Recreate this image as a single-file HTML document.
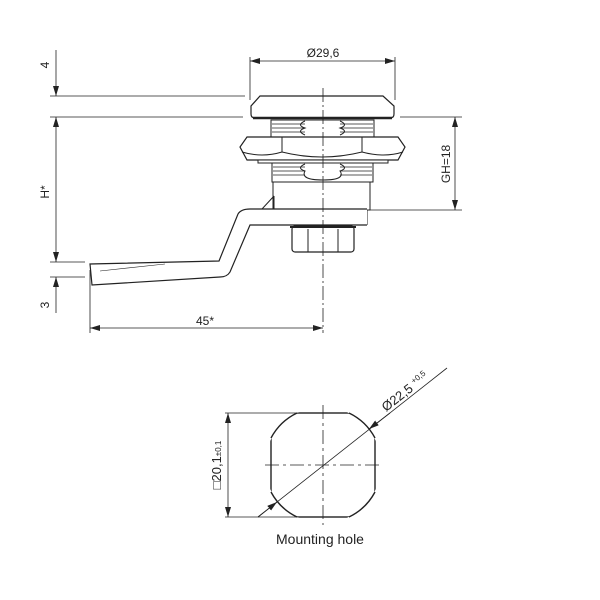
<!DOCTYPE html>
<html><head><meta charset="utf-8"><style>
html,body{margin:0;padding:0;background:#fff;}
svg{display:block;}
text{font-family:"Liberation Sans",sans-serif;fill:#222;}
</style></head><body>
<svg width="600" height="600" viewBox="0 0 600 600" xmlns="http://www.w3.org/2000/svg">
<defs>
<marker id="a" markerWidth="10" markerHeight="6" refX="10" refY="3" orient="auto-start-reverse" markerUnits="userSpaceOnUse">
<path d="M0,0 L10,3 L0,6 Z" fill="#222"/></marker>
<clipPath id="hc"><circle cx="323" cy="465" r="58"/></clipPath>
</defs>
<g stroke="#222" fill="none" stroke-width="1">
<line x1="250" y1="57" x2="250" y2="100" stroke-width="0.8"/>
<line x1="395" y1="57" x2="395" y2="100" stroke-width="0.8"/>
<line x1="250" y1="61" x2="395" y2="61" marker-start="url(#a)" marker-end="url(#a)" stroke-width="0.8"/>
<line x1="50" y1="96" x2="245" y2="96" stroke-width="0.8"/>
<line x1="50" y1="117" x2="243" y2="117" stroke-width="0.8"/>
<line x1="400" y1="117" x2="462" y2="117" stroke-width="0.8"/>
<line x1="367" y1="210" x2="462" y2="210" stroke-width="0.8"/>
<line x1="50" y1="262" x2="85" y2="262" stroke-width="0.8"/>
<line x1="50" y1="277" x2="85" y2="277" stroke-width="0.8"/>
<line x1="56" y1="50" x2="56" y2="96" marker-end="url(#a)" stroke-width="0.8"/>
<line x1="56" y1="117" x2="56" y2="262" marker-start="url(#a)" marker-end="url(#a)" stroke-width="0.8"/>
<line x1="56" y1="277" x2="56" y2="313" marker-start="url(#a)" stroke-width="0.8"/>
<line x1="455" y1="117" x2="455" y2="210" marker-start="url(#a)" marker-end="url(#a)" stroke-width="0.8"/>
<line x1="90" y1="270" x2="90" y2="333" stroke-width="0.8"/>
<line x1="90" y1="328" x2="323" y2="328" marker-start="url(#a)" marker-end="url(#a)" stroke-width="0.8"/>
<path d="M260,96 L383,96 L394,106 L394,114 Q394,118 390,118 L255,118 Q251,118 251,114 L251,106 Z" fill="#fff" stroke-width="1.2"/>
<line x1="253" y1="118" x2="392" y2="118" stroke-width="2.5"/>
<rect x="271" y="120" width="103" height="17" fill="#fff"/>
<g stroke-width="0.7">
<line x1="272" y1="124" x2="305" y2="124"/><line x1="272" y1="128" x2="305" y2="128"/><line x1="272" y1="132" x2="305" y2="132"/>
<line x1="340" y1="124" x2="373" y2="124"/><line x1="340" y1="128" x2="373" y2="128"/><line x1="340" y1="132" x2="373" y2="132"/>
</g>
<path d="M305,121 Q296,125 305,128 Q296,131 305,135 M340,121 Q349,125 340,128 Q349,131 340,135"/>
<path d="M247,137 L398,137 L405,147 L398,160 L247,160 L240,147 Z" fill="#fff" stroke-width="1.2"/>
<line x1="282" y1="137" x2="282" y2="152"/><line x1="362" y1="137" x2="362" y2="152"/>
<path d="M242,152 Q262,158 282,152 Q322,162 362,152 Q384,158 403,152"/>
<rect x="258" y="160" width="130" height="3" fill="#fff"/>
<rect x="272" y="163" width="101" height="19" fill="#fff"/>
<g stroke-width="0.7">
<line x1="273" y1="167" x2="305" y2="167"/><line x1="273" y1="171" x2="305" y2="171"/><line x1="273" y1="175" x2="305" y2="175"/>
<line x1="340" y1="167" x2="372" y2="167"/><line x1="340" y1="171" x2="372" y2="171"/><line x1="340" y1="175" x2="372" y2="175"/>
</g>
<path d="M305,164 Q296,168 305,171 Q300,180 323,180 Q346,180 340,171 Q349,168 340,164"/>
<rect x="273" y="182" width="97" height="28" fill="#fff"/>
<path d="M367,210 L367,225"/>
<rect x="292" y="226" width="62" height="26" rx="3" fill="#fff" stroke-width="1.2"/>
<line x1="290" y1="227" x2="356" y2="227" stroke-width="2"/>
<line x1="308" y1="229" x2="308" y2="252"/><line x1="338" y1="229" x2="338" y2="252"/>
<path d="M367,225 L250,225 L230,272 Q227,277 220,277 L92,285 L90,264 L219,261 L238,214 Q241,209 250,209 L367,209" fill="#fff" stroke-width="1.2"/>
<line x1="262" y1="209" x2="274" y2="196"/>
<line x1="274" y1="196" x2="274" y2="209"/>
<line x1="100" y1="271" x2="165" y2="264" stroke-width="0.6"/>
<line x1="323" y1="88" x2="323" y2="333" stroke-dasharray="14,3,2,3" stroke-width="0.8"/>
<g clip-path="url(#hc)"><rect x="271" y="413" width="104" height="104" stroke-width="1.4"/></g>
<path d="M297,413 A58,58 0 0 0 271,438 M349,413 A58,58 0 0 1 375,438 M271,492 A58,58 0 0 0 297,517 M375,492 A58,58 0 0 1 349,517" stroke-width="1.4"/>
<line x1="265" y1="465" x2="382" y2="465" stroke-dasharray="14,4,3,4" stroke-width="0.8"/>
<line x1="323" y1="405" x2="323" y2="525" stroke-dasharray="14,4,3,4" stroke-width="0.8"/>
<line x1="225" y1="413" x2="300" y2="413" stroke-width="0.8"/>
<line x1="225" y1="517" x2="300" y2="517" stroke-width="0.8"/>
<line x1="228" y1="413" x2="228" y2="517" marker-start="url(#a)" marker-end="url(#a)" stroke-width="0.8"/>
<line x1="258" y1="517" x2="447" y2="368" stroke-width="0.8"/>
<line x1="258" y1="517" x2="277" y2="502" marker-end="url(#a)" stroke-width="0.8"/>
<line x1="390" y1="413" x2="369" y2="429" marker-end="url(#a)" stroke-width="0.8"/>
</g>
<text x="323" y="57" font-size="12" text-anchor="middle">Ø29,6</text>
<text transform="translate(49,65) rotate(-90)" font-size="12" text-anchor="middle">4</text>
<text transform="translate(49,192) rotate(-90)" font-size="12" text-anchor="middle">H*</text>
<text transform="translate(49,305) rotate(-90)" font-size="12" text-anchor="middle">3</text>
<text transform="translate(450,164) rotate(-90)" font-size="12" text-anchor="middle">GH=18</text>
<text x="205" y="325" font-size="12" text-anchor="middle">45*</text>
<text transform="translate(221,465) rotate(-90)" font-size="13" text-anchor="middle">□20,1<tspan font-size="8">±0,1</tspan></text>
<text transform="translate(386,412) rotate(-38)" font-size="13">Ø22,5 <tspan font-size="8" dy="-5">+0,5</tspan></text>
<text x="320" y="544" font-size="14" text-anchor="middle">Mounting hole</text>
</svg>
</body></html>
